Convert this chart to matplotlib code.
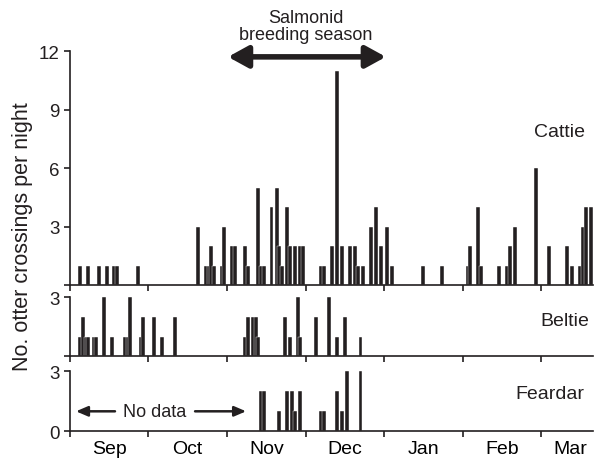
import matplotlib
matplotlib.use('Agg')
import matplotlib.pyplot as plt

plt.rcParams['font.family'] = ['Liberation Sans', 'DejaVu Sans']

# days since 1 Sep, otter crossings per night
cattie_days = [4, 7, 11, 14, 17, 18, 26,
               49, 52, 53, 54, 55, 58, 59, 62, 63, 67, 68, 72, 73, 74, 77, 79, 80, 81, 83, 84, 86, 88, 89,
               96, 97, 100, 102, 104, 107, 109, 110, 112, 115, 117, 119, 121, 123,
               135, 142, 152, 153, 156, 157, 164, 167, 168, 170, 178, 183, 190, 192, 195, 196, 197, 199]
cattie_counts = [1, 1, 1, 1, 1, 1, 1,
                 3, 1, 1, 2, 1, 1, 3, 2, 2, 2, 1, 5, 1, 1, 4, 5, 2, 1, 4, 2, 2, 2, 2,
                 1, 1, 2, 11, 2, 2, 2, 1, 1, 3, 4, 2, 3, 1,
                 1, 1, 1, 2, 4, 1, 1, 1, 2, 3, 6, 2, 2, 1, 1, 3, 4, 4]

beltie_days = [4, 5, 6, 7, 9, 10, 13, 16, 21, 22, 23, 27, 28, 32, 35, 40,
               67, 68, 70, 71, 72, 82, 84, 87, 88, 94, 99, 102, 105, 111]
beltie_counts = [1, 2, 1, 1, 1, 1, 3, 1, 1, 1, 3, 1, 2, 2, 1, 2,
                 1, 2, 2, 2, 1, 2, 1, 3, 1, 2, 3, 1, 2, 1]

feardar_days = [73, 74, 80, 83, 85, 86, 88, 96, 97, 102, 104, 106, 111]
feardar_counts = [2, 2, 1, 2, 2, 1, 2, 1, 1, 2, 1, 3, 3]

month_starts = [0, 30, 60, 90, 120, 150, 180]
month_mids = [15, 45, 75, 105, 135, 165, 191]
month_names = ['Sep', 'Oct', 'Nov', 'Dec', 'Jan', 'Feb', 'Mar']

BAR = '#231f20'

fig = plt.figure(figsize=(5.95, 4.64), dpi=100)
ax_c = fig.add_axes([0.1176, 0.3836, 0.8797, 0.5043])
ax_b = fig.add_axes([0.1176, 0.2300, 0.8797, 0.1272])
ax_f = fig.add_axes([0.1176, 0.0683, 0.8797, 0.1293])

panels = [(ax_c, cattie_days, cattie_counts, 12, [0, 3, 6, 9, 12], ['', '3', '6', '9', '12']),
          (ax_b, beltie_days, beltie_counts, 3, [0, 3], ['', '3']),
          (ax_f, feardar_days, feardar_counts, 3, [0, 3], ['0', '3'])]

for ax, days, counts, top, yt, ytl in panels:
    ax.bar(days, counts, width=1.5, color=BAR, edgecolor='white', linewidth=0.3)
    ax.set_xlim(0, 200)
    ax.set_ylim(0, top)
    ax.set_yticks(yt)
    ax.set_yticklabels(ytl, fontsize=13.5)
    ax.set_xticks(month_starts)
    ax.set_xticklabels([])
    ax.set_xticks(month_mids, minor=True)
    ax.tick_params(axis='x', which='minor', length=0)
    ax.tick_params(direction='out', length=4, width=1.2, colors='#231f20')
    for s in ['top', 'right']:
        ax.spines[s].set_visible(False)
    for s in ['left', 'bottom']:
        ax.spines[s].set_linewidth(1.2)
        ax.spines[s].set_color('#231f20')

ax_f.set_xticklabels(month_names, minor=True, fontsize=14)
ax_f.tick_params(axis='x', which='minor', pad=6)

ax_c.text(187, 7.85, 'Cattie', fontsize=14, ha='center', va='center', color='#231f20')
ax_b.text(189, 1.8, 'Beltie', fontsize=14, ha='center', va='center', color='#231f20')
ax_f.text(183.5, 1.9, 'Feardar', fontsize=14, ha='center', va='center', color='#231f20')

# breeding season arrow
ax_c.annotate('', xy=(60.4, 11.7), xytext=(120.7, 11.7), annotation_clip=False,
              arrowprops=dict(arrowstyle='<|-|>,head_length=1.0,head_width=0.55',
                              lw=4, color=BAR, mutation_scale=12, shrinkA=0, shrinkB=0))
ax_c.text(90, 12.4, 'Salmonid\nbreeding season', fontsize=13, ha='center', va='bottom',
          linespacing=1.05, color='#231f20')

# no data arrows
ax_f.text(32.5, 1.0, 'No data', fontsize=13, ha='center', va='center', color='#231f20')
for x0, x1 in [(17.2, 2.3), (47.8, 67.3)]:
    ax_f.annotate('', xy=(x1, 1.0), xytext=(x0, 1.0),
                  arrowprops=dict(arrowstyle='-|>,head_length=0.7,head_width=0.3',
                                  lw=1.8, color=BAR, mutation_scale=10, shrinkA=0, shrinkB=0))

fig.text(0.037, 0.49, 'No. otter crossings per night', rotation=90, fontsize=15.5,
         ha='center', va='center', color='#231f20')

fig.savefig('out.png', dpi=100)
